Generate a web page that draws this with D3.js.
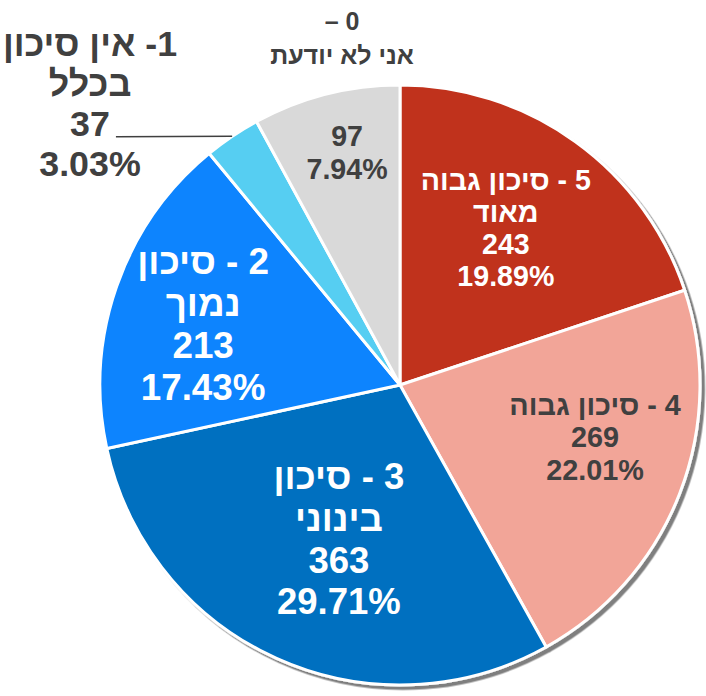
<!DOCTYPE html>
<html>
<head>
<meta charset="utf-8">
<script src="https://cdn.jsdelivr.net/npm/d3@7"></script>
<style>
  body { margin: 0; background: #fff; }
  text { font-family: "Liberation Sans", Arial, sans-serif; font-weight: bold; }
</style>
</head>
<body>
<div id="chart"></div>
<script>
// data, clockwise from 12 o'clock
const categoryLines = [
  ["5 - סיכון גבוה", "מאוד"],
  ["4 - סיכון גבוה"],
  ["3 - סיכון", "בינוני"],
  ["2 - סיכון", "נמוך"],
  ["1- אין סיכון", "בכלל"],
  ["0 –", "אני לא יודעת"]
];
const values = [243, 269, 363, 213, 37, 97];
const colors = ["#c0311b", "#f2a598", "#0070c0", "#0b84fe", "#56cef2", "#d9d9d9"];
const textColors = ["#fff", "#404040", "#fff", "#fff", "#404040", "#404040"];

// label placement (angle in degrees from top, radius as fraction of r)
const labelAngle = [34.0, 104.9, 201.7, 287.2, 312.3, 347.2];
const labelRadius = [0.631, 0.673, 0.551, 0.687, 1.397, 0.797];
const labelSize = [28.6, 28.8, 36.5, 36.8, 35.8, 28.6];
const labelStep = [32, 32.5, 41.7, 42, 40, 33];
// slice 0 has its category outside the pie
const outerAngle = 350.5, outerRadius = 1.171, outerSize = 25, outerStep = 34;

const w = 706, h = 696, cx = 400, cy = 385, r = 300;
const total = d3.sum(values);
const RLM = "\u200F";

const svg = d3.select("#chart").append("svg")
  .attr("width", w)
  .attr("height", h);

const defs = svg.append("defs");
defs.append("filter")
  .attr("id", "shadow")
  .attr("x", "-10%").attr("y", "-10%")
  .attr("width", "120%").attr("height", "120%")
  .append("feDropShadow")
  .attr("dx", 3.5).attr("dy", 3.5)
  .attr("stdDeviation", 0.7)
  .attr("flood-color", "#000")
  .attr("flood-opacity", 0.5);

const pie = d3.pie().sort(null).value(d => d);
const arcs = pie(values);
const arc = d3.arc().innerRadius(0).outerRadius(r);

const g = svg.append("g").attr("transform", `translate(${cx},${cy})`);

g.append("g")
  .attr("filter", "url(#shadow)")
  .selectAll("path")
  .data(arcs)
  .enter()
  .append("path")
  .attr("d", arc)
  .attr("fill", (d, i) => colors[i])
  .attr("stroke", "#fff")
  .attr("stroke-width", 3)
  .attr("stroke-linejoin", "round");

function polar(angleDeg, frac) {
  const a = angleDeg * Math.PI / 180;
  return [Math.sin(a) * r * frac, -Math.cos(a) * r * frac];
}

function drawBlock(lines, pos, size, step, color) {
  const n = lines.length;
  const t = g.append("g");
  const nodes = [];
  lines.forEach((line, k) => {
    const yc = pos[1] + (k - (n - 1) / 2) * step;
    nodes.push(t.append("text")
      .attr("x", pos[0])
      .attr("y", yc + size * 0.358)
      .attr("direction", "rtl")
      .style("direction", "rtl")
      .style("unicode-bidi", "embed")
      .attr("text-anchor", "middle")
      .attr("font-size", size)
      .attr("fill", color)
      .text(RLM + line + RLM));
  });
  return nodes;
}

arcs.forEach((d, i) => {
  const pct = (values[i] / total * 100).toFixed(2) + "%";
  const pos = polar(labelAngle[i], labelRadius[i]);
  let lines;
  if (i === 5) {
    lines = [String(values[i]), pct];
    drawBlock(categoryLines[i], polar(outerAngle, outerRadius), outerSize, outerStep, "#404040");
  } else {
    lines = categoryLines[i].concat([String(values[i]), pct]);
  }
  const nodes = drawBlock(lines, pos, labelSize[i], labelStep[i], textColors[i]);

  if (i === 4) {
    // leader line from the value text to the slice edge
    const valNode = nodes[2];
    const bb = valNode.node().getBBox();
    const mid = (d.startAngle + d.endAngle) / 2;
    const end = [Math.sin(mid) * r, -Math.cos(mid) * r];
    const baseY = +valNode.attr("y");
    g.append("line")
      .attr("x1", bb.x + bb.width + 6)
      .attr("y1", baseY + 1)
      .attr("x2", end[0])
      .attr("y2", end[1])
      .attr("stroke", "#404040")
      .attr("stroke-width", 1.5);
  }
});
</script>
</body>
</html>
